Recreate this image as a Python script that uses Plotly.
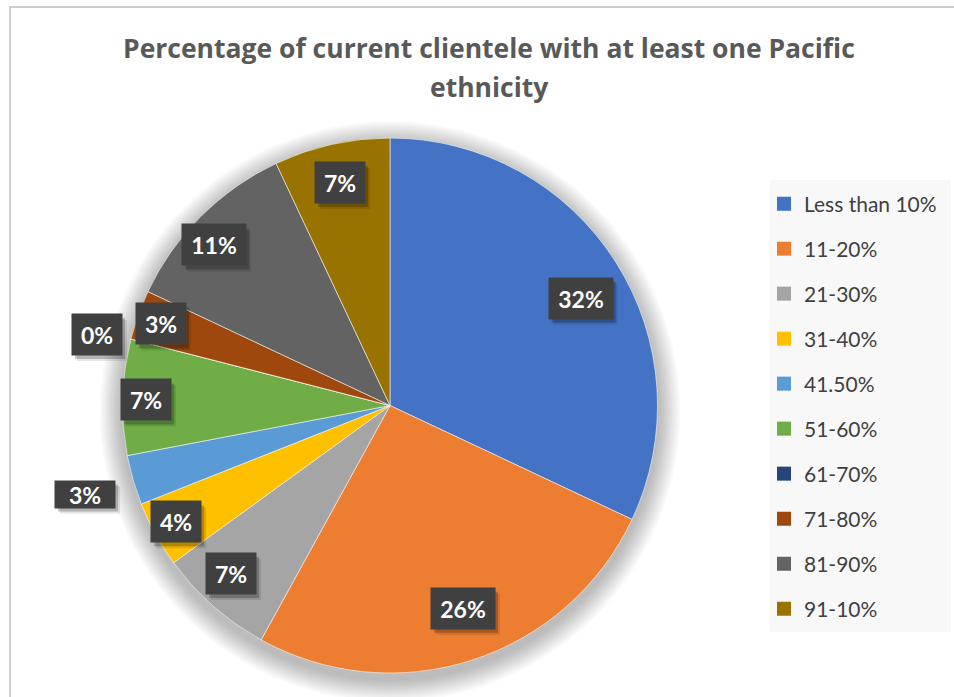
import math
import plotly.graph_objects as go

# Survey responses: share of current clientele with at least one Pacific ethnicity
categories = ["Less than 10%", "11-20%", "21-30%", "31-40%", "41.50%",
              "51-60%", "61-70%", "71-80%", "81-90%", "91-10%"]
percent = [32, 26, 7, 4, 3, 7, 0, 3, 11, 7]

colors = ["#4472C4", "#ED7D31", "#A5A5A5", "#FFC000", "#5B9BD5",
          "#70AD47", "#264478", "#9E480E", "#636363", "#997300"]

title_lines = ["Percentage of current clientele with at least one Pacific", "ethnicity"]

# data-label placement: distance from centre (fraction of radius),
# small angular nudge (degrees) and box height (px) for each label
label_radius = [0.818, 0.806, 0.865, 0.91, 1.187, 0.912, 1.127, 0.909, 0.89, 0.854]
label_nudge = [3.0, -1.8, 2.0, 0.3, 0.0, -0.5, -0.8, -0.2, -2.6, 0.0]
label_box_h = [41, 41, 41, 41, 27, 41, 41, 41, 41, 41]

W, H = 954, 697
CX, CY, R = 390.0, 405.5, 267.5   # pie centre / radius in pixels


def px_x(x):
    return x / W


def px_y(y):
    return 1 - y / H


fig = go.Figure()

fig.add_trace(go.Pie(
    labels=categories,
    values=percent,
    sort=False,
    direction="clockwise",
    rotation=0,
    marker=dict(colors=colors, line=dict(color="rgba(255,255,255,0.55)", width=1)),
    textinfo="none",
    hoverinfo="label+percent",
    showlegend=False,
    domain=dict(x=[px_x(CX - R), px_x(CX + R)], y=[px_y(CY + R), px_y(CY - R)]),
))

# legend entries (one per category) so the entries can be spaced out
for name, col in zip(categories, colors):
    fig.add_trace(go.Scatter(
        x=[None], y=[None], mode="markers", name=name, legendgroup=name,
        marker=dict(symbol="square", size=14, color=col),
        hoverinfo="skip",
    ))

shapes = []
# chart frame
shapes.append(dict(type="rect", xref="paper", yref="paper", layer="below",
                   x0=px_x(10), x1=px_x(W + 10), y0=px_y(7), y1=px_y(H + 10),
                   line=dict(color="#BFBFBF", width=1.5), fillcolor="white"))
# soft shadow under the pie
for k in range(14):
    rr = R + 2 + k * 1.6
    oy = 6
    shapes.append(dict(type="circle", xref="paper", yref="paper", layer="below",
                       x0=px_x(CX - rr), x1=px_x(CX + rr),
                       y0=px_y(CY + oy + rr), y1=px_y(CY + oy - rr),
                       line=dict(width=0), fillcolor="rgba(0,0,0,0.02)"))
# legend panel
shapes.append(dict(type="rect", xref="paper", yref="paper", layer="below",
                   x0=px_x(770), x1=px_x(951), y0=px_y(180), y1=px_y(632),
                   line=dict(width=0), fillcolor="#F8F8F8"))

annotations = []
total = sum(percent)
cum = 0.0
for v, f, nd, bh in zip(percent, label_radius, label_nudge, label_box_h):
    mid = (cum + v / 2) / total
    cum += v
    th = 2 * math.pi * mid + math.radians(nd)
    lx = CX + R * f * math.sin(th)
    ly = CY - R * f * math.cos(th)
    txt = f"{v}%"
    bw = 64 if len(txt) > 2 else 50
    if bh < 35:
        bw = 60
    # drop shadow behind the label box
    for off, alpha in ((3, 0.22), (5, 0.10)):
        shapes.append(dict(
            type="rect", xref="paper", yref="paper", layer="above",
            x0=px_x(lx - bw / 2 + off), x1=px_x(lx + bw / 2 + off),
            y0=px_y(ly + bh / 2 + off + 1), y1=px_y(ly - bh / 2 + off + 1),
            line=dict(width=0), fillcolor=f"rgba(0,0,0,{alpha})",
        ))
    pad = 5 if bh >= 35 else 2
    annotations.append(dict(
        x=px_x(lx), y=px_y(ly), xref="paper", yref="paper", showarrow=False,
        xanchor="center", yanchor="middle",
        text=f"<b>{txt}</b>", width=bw - 2 * pad, height=bh - 2 * pad, borderpad=pad,
        bgcolor="#404040",
        font=dict(family="Lato", size=23, color="white"),
    ))

# chart title, two centred lines
for line, yc in zip(title_lines, [48, 87]):
    annotations.append(dict(
        x=px_x(489), y=px_y(yc), xref="paper", yref="paper", showarrow=False,
        xanchor="center", yanchor="middle", align="center",
        text=f"<b>{line}</b>",
        font=dict(family="Open Sans", size=26.5, color="#595959"),
    ))

fig.update_layout(
    width=W, height=H,
    margin=dict(l=0, r=0, t=0, b=0),
    paper_bgcolor="white",
    plot_bgcolor="rgba(0,0,0,0)",
    xaxis=dict(visible=False),
    yaxis=dict(visible=False),
    legend=dict(
        x=px_x(764), y=px_y(183.5), xanchor="left", yanchor="top",
        bgcolor="rgba(0,0,0,0)", tracegroupgap=14.7,
        font=dict(family="Lato", size=21, color="#404040"),
    ),
    shapes=shapes,
    annotations=annotations,
)

fig.write_html("out.html")
